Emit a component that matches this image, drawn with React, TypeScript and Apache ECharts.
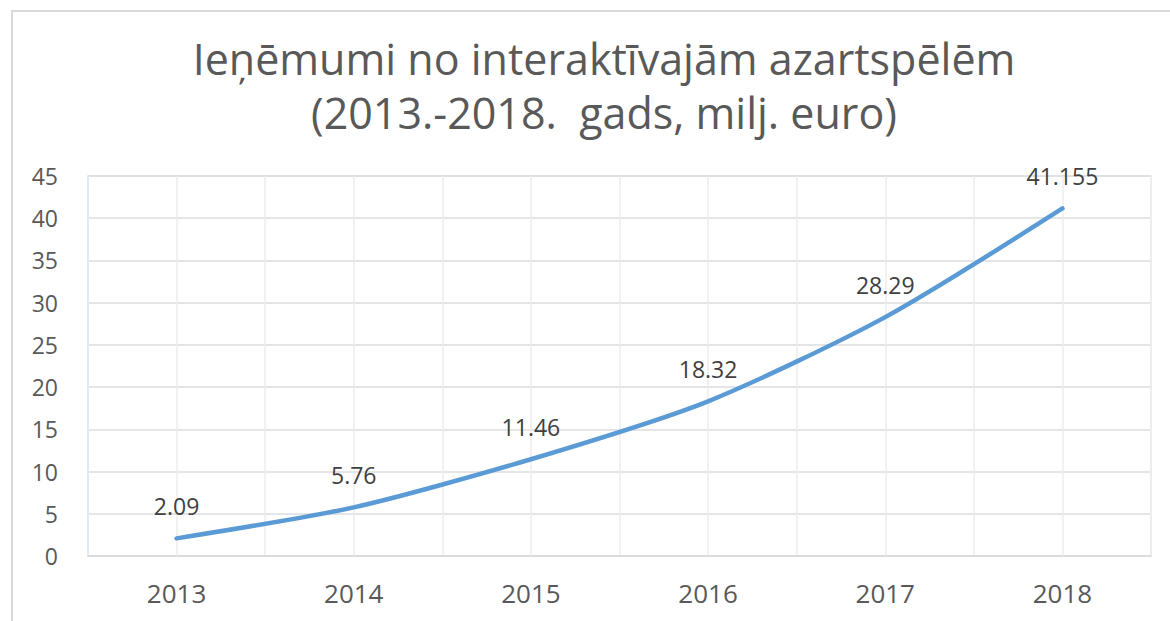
import React, { useEffect, useRef } from "react";
import * as echarts from "echarts";

const titleLines = ["Ieņēmumi no interaktīvajām azartspēlēm", "(2013.-2018.  gads, milj. euro)"];
const years = ["2013", "2014", "2015", "2016", "2017", "2018"];
const revenue = [2.09, 5.76, 11.46, 18.32, 28.29, 41.155];
const yMin = 0;
const yMax = 45;
const yStep = 5;

export default function App() {
  const ref = useRef<HTMLDivElement>(null);
  useEffect(() => {
    if (!ref.current) return;
    const chart = echarts.init(ref.current, null, { renderer: "svg" });
    const font = "'Open Sans', sans-serif";
    chart.setOption({
      animation: false,
      backgroundColor: "#ffffff",
      title: {
        text: titleLines.join("\n"),
        left: 599,
        textAlign: "center",
        top: 26,
        textStyle: {
          fontFamily: font,
          fontSize: 43,
          fontWeight: "normal",
          color: "#595959",
          lineHeight: 54,
        },
      },
      graphic: [
        {
          type: "polyline",
          shape: { points: [[12, 621], [12, 11], [1170, 11]] },
          style: { stroke: "#d9d9d9", lineWidth: 2, fill: "none" },
          silent: true,
        },
      ],
      grid: { left: 88, right: 19, top: 176, bottom: 65, show: true, borderColor: "#ddebf7", borderWidth: 1.5 },
      xAxis: {
        type: "category",
        data: years,
        boundaryGap: true,
        axisLine: { show: true, lineStyle: { color: "#d9d9d9", width: 1.5 } },
        axisTick: { show: false },
        axisLabel: {
          fontFamily: font,
          fontSize: 26,
          color: "#595959",
          margin: 24,
        },
        splitLine: { show: true, interval: 0, lineStyle: { color: "#ececec", width: 1.5 } },
      },
      yAxis: {
        type: "value",
        min: yMin,
        max: yMax,
        interval: yStep,
        axisLine: { show: true, lineStyle: { color: "#ddebf7", width: 1.5 } },
        axisTick: { show: false },
        axisLabel: {
          fontFamily: font,
          fontSize: 23,
          color: "#595959",
          margin: 30,
        },
        splitLine: { show: true, lineStyle: { color: "#dcdcdc", width: 1.5 } },
      },
      series: [
        {
          type: "line",
          data: revenue,
          smooth: 0.25,
          symbol: "circle",
          symbolSize: 1,
          showSymbol: true,
          itemStyle: { color: "rgba(0,0,0,0)" },
          lineStyle: { color: "#5b9bd5", width: 4.5, cap: "round" },
          label: {
            show: true,
            position: "top",
            distance: 20,
            fontFamily: font,
            fontSize: 23,
            color: "#404040",
          },
          z: 5,
        },
        {
          type: "line",
          data: revenue.map(() => null),
          markLine: {
            silent: true,
            symbol: "none",
            label: { show: false },
            lineStyle: { color: "#ececec", width: 1.5, type: "solid" },
            data: years.map((y) => ({ xAxis: y })),
          },
          z: 1,
        },
      ],
    });
    return () => chart.dispose();
  }, []);
  return (
    <div
      ref={ref}
      style={{ position: "fixed", left: 0, top: 0, width: 1170, height: 621 }}
    />
  );
}
